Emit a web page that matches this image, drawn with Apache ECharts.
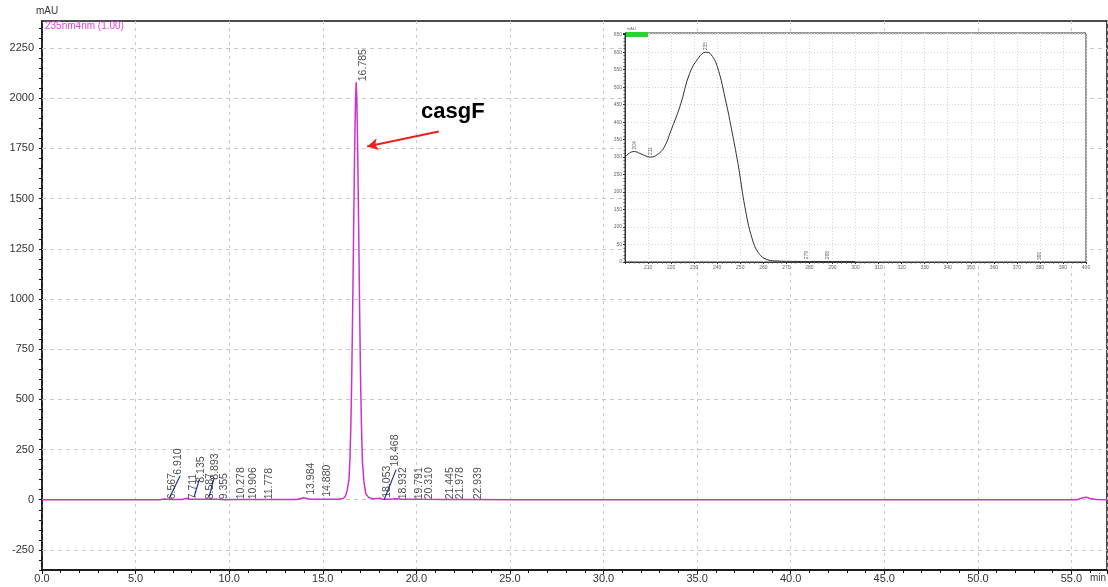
<!DOCTYPE html>
<html>
<head>
<meta charset="utf-8">
<title>casgF HPLC</title>
<script src="https://cdn.jsdelivr.net/npm/echarts@6/dist/echarts.min.js"></script>
<style>
	html, body { margin: 0; padding: 0; background: #fff; }
	#chart { width: 1108px; height: 587px; }
</style>
</head>
<body>
<div id="chart"></div>
<script>
// chromatogram 235nm, retention time (min) / absorbance (mAU)
var traceTime = [0, 6.3, 6.5, 6.567, 6.7, 6.9, 7.5, 7.711, 7.9, 8.135, 8.587, 8.893, 9.355, 9.8,
	10.278, 10.906, 11.778, 13.6, 13.984, 14.3, 14.88, 15.8, 16.1, 16.2, 16.3, 16.4, 16.45, 16.5,
	16.55, 16.6, 16.65, 16.7, 16.75, 16.785, 16.82, 16.87, 16.92, 16.97, 17.02, 17.07, 17.12, 17.2,
	17.3, 17.45, 17.7, 18.053, 18.2, 18.468, 18.932, 19.2, 19.791, 20.31, 21.445, 21.978, 22.939,
	25, 40, 55.3, 55.6, 55.8, 56.0, 56.3, 56.9];
var traceMau = [0, 0, 4, 8, 3, 1, 1, 7, 2, 3, 3, 2, 2, 0.5,
	1, 1, 1, 1, 10, 3, 2, 2, 6, 16, 45, 100, 200, 360,
	620, 960, 1350, 1720, 1990, 2080, 2000, 1720, 1340, 950, 600, 360, 190, 90,
	30, 12, 4, 8, 3, 3, 5, 2, 3, 2, 1, 1, 1,
	0.5, 0, 0, 10, 13, 6, 1, 0];

// peak retention-time labels and the height where each label starts
var peakTimes = [6.567, 6.910, 7.711, 8.135, 8.587, 8.893, 9.355, 10.278, 10.906, 11.778,
	13.984, 14.880, 16.785, 18.053, 18.468, 18.932, 19.791, 20.310, 21.445, 21.978, 22.939];
var peakLabelBase = [2, 125, 2, 85, 2, 100, 2, 2, 2, 2,
	25, 15, 2085, 10, 165, 2, 2, 2, 2, 2, 2];

// blue integration marks (null = gap)
var markTime = [6.81, 7.38, null, 8.13, 8.40, null, 8.93, 9.20, null, 18.28, 18.92];
var markMau = [10, 120, null, 15, 100, null, 15, 110, null, 0, 150];

var yTicks = [-250, 0, 250, 500, 750, 1000, 1250, 1500, 1750, 2000, 2250];

// UV spectrum of the casgF peak (inset)
var uvNm = [200, 202, 204, 207, 211, 214, 217, 220, 224, 228, 232, 235, 237, 240, 244, 246,
	249, 252, 255, 258, 262, 266, 270, 280, 290, 300];
var uvMau = [300, 312, 316, 309, 300, 307, 328, 377, 448, 539, 585, 600, 596, 560, 452, 387,
	282, 158, 70, 25, 6, 3, 2, 1.5, 1.5, 1.5];
var uvPeakNm = [204, 211, 235, 279, 288, 380];
var uvPeakMau = [316, 300, 600, 2, 2, 0];

var FONT = '"Liberation Sans", Arial, sans-serif';

function pairs(xs, ys) {
	var out = [];
	for (var i = 0; i < xs.length; i++) {
		out.push(xs[i] === null ? [null, null] : [xs[i], ys[i]]);
	}
	return out;
}

var chart = echarts.init(document.getElementById('chart'));

var gridLines = [];
for (var i = 0; i < yTicks.length; i++) {
	gridLines.push({ yAxis: yTicks[i] });
}

var option = {
	animation: false,
	backgroundColor: '#fff',
	textStyle: { fontFamily: FONT },
	grid: [{
		left: 42, right: 1, top: 21, bottom: 17,
		show: true, borderColor: '#111', borderWidth: 1.5, backgroundColor: 'transparent'
	}, {
		left: 625, top: 33, width: 461, height: 229, z: 10,
		show: true, borderColor: '#333', borderWidth: 1, backgroundColor: '#fff'
	}],
	xAxis: [{
		type: 'value', gridIndex: 0, min: 0, max: 56.9, interval: 5,
		axisLine: { onZero: false, lineStyle: { color: '#111', width: 1.5 } },
		axisTick: { show: true, length: 4, lineStyle: { color: '#111' } },
		minorTick: { show: true, splitNumber: 5, length: 3, lineStyle: { color: '#111' } },
		axisLabel: {
			color: '#333', fontSize: 11, margin: 3, showMaxLabel: false,
			formatter: function(v) { return v.toFixed(1); }
		},
		splitLine: { show: true, lineStyle: { color: '#c8c8c8', type: [3, 4], width: 1 } }
	}, {
		type: 'value', gridIndex: 1, min: 200, max: 400, interval: 10, z: 11,
		axisLine: { lineStyle: { color: '#333', width: 1 } },
		axisTick: { length: 2, lineStyle: { color: '#333' } },
		minorTick: { show: true, splitNumber: 5, length: 1.5, lineStyle: { color: '#555' } },
		axisLabel: { fontSize: 5, color: '#666', margin: 3, showMinLabel: false },
		splitLine: { show: true, lineStyle: { color: '#d6d6d6', type: [1, 2] } }
	}],
	yAxis: [{
		type: 'value', gridIndex: 0, min: -350, max: 2385, interval: 50,
		axisLine: { show: true, onZero: false, lineStyle: { color: '#111', width: 1.5 } },
		axisTick: { show: true, length: 3, lineStyle: { color: '#111' } },
		axisLabel: {
			color: '#333', fontSize: 11, margin: 8, showMaxLabel: false,
			formatter: function(v) { return v % 250 === 0 ? String(v) : ''; }
		},
		splitLine: { show: false }
	}, {
		type: 'value', gridIndex: 1, min: 0, max: 655, interval: 50, z: 11,
		axisLine: { show: true, lineStyle: { color: '#333', width: 1 } },
		axisTick: { show: true, length: 2, lineStyle: { color: '#333' } },
		minorTick: { show: true, splitNumber: 5, length: 1.5, lineStyle: { color: '#555' } },
		axisLabel: { fontSize: 5, color: '#666', margin: 3, showMaxLabel: false },
		splitLine: { show: true, lineStyle: { color: '#d6d6d6', type: [1, 2] } }
	}],
	series: [{
		name: '235nm4nm (1.00)',
		type: 'line',
		xAxisIndex: 0, yAxisIndex: 0,
		data: pairs(traceTime, traceMau),
		showSymbol: false,
		lineStyle: { color: '#cc33cc', width: 1.5 },
		z: 3,
		markLine: {
			silent: true, symbol: 'none', label: { show: false },
			lineStyle: { color: '#c8c8c8', type: [4, 4], width: 1 },
			data: gridLines,
			z: 1
		}
	}, {
		name: 'integration',
		type: 'line',
		xAxisIndex: 0, yAxisIndex: 0,
		data: pairs(markTime, markMau),
		connectNulls: false,
		showSymbol: false,
		lineStyle: { color: '#2233aa', width: 1.2 },
		z: 4
	}, {
		name: 'peak labels',
		type: 'scatter',
		xAxisIndex: 0, yAxisIndex: 0,
		data: pairs(peakTimes, peakLabelBase),
		symbolSize: 1,
		itemStyle: { color: 'rgba(0,0,0,0)' },
		z: 5,
		label: {
			show: true, position: 'inside', rotate: 90,
			align: 'left', verticalAlign: 'middle', offset: [0, 7],
			fontSize: 10.5, color: '#1a1a1a', fontFamily: FONT,
			formatter: function(p) { return p.value[0].toFixed(3); }
		},
		markLine: {
			silent: true, symbol: ['none', 'arrow'], symbolSize: [9, 11],
			label: { show: false },
			lineStyle: { color: '#e8231e', width: 2, type: 'solid' },
			data: [[{ coord: [21.2, 1835] }, { coord: [17.37, 1760] }]]
		}
	}, {
		name: 'UV spectrum',
		type: 'line',
		xAxisIndex: 1, yAxisIndex: 1,
		data: pairs(uvNm, uvMau),
		smooth: 0.4,
		showSymbol: false,
		lineStyle: { color: '#333', width: 1 },
		z: 12
	}, {
		name: 'UV peaks',
		type: 'scatter',
		xAxisIndex: 1, yAxisIndex: 1,
		data: pairs(uvPeakNm, uvPeakMau),
		symbolSize: 1,
		itemStyle: { color: 'rgba(0,0,0,0)' },
		z: 13,
		label: {
			show: true, position: 'inside', rotate: 90,
			align: 'left', verticalAlign: 'middle', offset: [2, 0],
			fontSize: 5, color: '#444',
			formatter: function(p) { return String(p.value[0]); }
		}
	}],
	graphic: [{
		type: 'text', left: 36, top: 6, z: 20,
		style: { text: 'mAU', font: '10px ' + FONT, fill: '#333' }
	}, {
		type: 'text', left: 45, top: 21, z: 20,
		style: { text: '235nm4nm (1.00)', font: '10px ' + FONT, fill: '#dd44dd' }
	}, {
		type: 'text', left: 1090, top: 573, z: 20,
		style: { text: 'min', font: '10px ' + FONT, fill: '#333' }
	}, {
		type: 'text', left: 421, top: 101, z: 20,
		style: { text: 'casgF', font: 'bold 22px ' + FONT, fill: '#000' }
	}, {
		type: 'rect', left: 626, top: 32, z: 20,
		shape: { width: 22, height: 5 },
		style: { fill: '#2fd12f' }
	}, {
		type: 'text', left: 627, top: 27, z: 20,
		style: { text: 'mAU', font: '4px ' + FONT, fill: '#666' }
	}]
};

chart.setOption(option);
</script>
</body>
</html>
